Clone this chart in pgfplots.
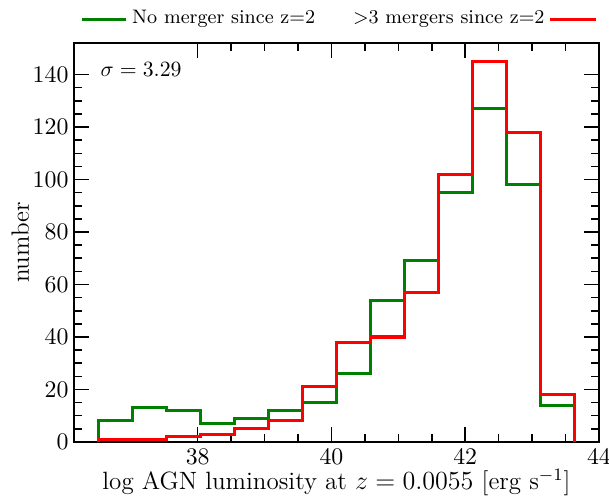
\documentclass[border=0pt]{standalone}
\usepackage{fontspec}
\usepackage{pgfplots}
\pgfplotsset{compat=1.18}
\definecolor{mplgreen}{HTML}{008000}
\definecolor{mplred}{HTML}{FF0000}
\begin{document}
\begin{tikzpicture}
\path[use as bounding box] (-34pt,-26.2pt) rectangle (246pt,203.2pt);
\begin{axis}[
  scale only axis, width=241.4pt, height=183.4pt,
  anchor=south west, at={(0,0)},
  xmin=36.15, xmax=44, ymin=0, ymax=152,
  xtick={38,40,42,44}, ytick={0,20,...,140},
  minor x tick num=3, minor y tick num=3,
  tick align=inside,
  major tick length=7pt, minor tick length=3.5pt,
  every tick/.style={black, line width=0.7pt},
  axis line style={line width=0.9pt},
  tick label style={font=\fontsize{10.95}{13}\selectfont},
  yticklabel style={xshift=1pt},
  every axis x label/.style={at={(axis description cs:0.5,-0.12)}, anchor=base, font=\fontsize{11.5}{14}\selectfont},
  every axis y label/.style={at={(axis description cs:-0.0858,0.5)}, rotate=90, anchor=base, font=\fontsize{11.5}{14}\selectfont},
  xlabel={log AGN luminosity at $z = 0.0055$ [erg s$^{-1}$]},
  ylabel={number},
  clip=false,
]
% No merger since z=2
\addplot[const plot, mplgreen, line width=1.4pt] coordinates {
(36.52,0) (36.52,8) (37.028,13) (37.536,12) (38.044,7) (38.552,9) (39.06,12) (39.568,15)
(40.076,26) (40.584,54) (41.092,69) (41.6,95) (42.108,127) (42.616,98) (43.124,14) (43.632,0)
};
% >3 mergers since z=2
\addplot[const plot, mplred, line width=1.4pt] coordinates {
(36.52,0) (36.52,1) (37.028,1) (37.536,2) (38.044,3) (38.552,5) (39.06,8) (39.568,21)
(40.076,38) (40.584,40) (41.092,57) (41.6,102) (42.108,145) (42.616,118) (43.124,18) (43.632,0)
};
\node[anchor=west, inner sep=0pt, font=\fontsize{10}{12}\selectfont] at (rel axis cs:0.05,0.933) {$\sigma = 3.29$};
% legend
\draw[mplgreen, line width=1.4pt] (rel axis cs:0.015,1.06) -- (rel axis cs:0.099,1.06);
\node[anchor=west, font=\fontsize{9}{11}\selectfont, inner sep=0pt] at (rel axis cs:0.110,1.06) {No merger since z=2};
\node[anchor=east, font=\fontsize{9}{11}\selectfont, inner sep=0pt] at (rel axis cs:0.897,1.06) {$>$3 mergers since z=2};
\draw[mplred, line width=1.4pt] (rel axis cs:0.907,1.06) -- (rel axis cs:0.994,1.06);
\end{axis}
\end{tikzpicture}
\end{document}
